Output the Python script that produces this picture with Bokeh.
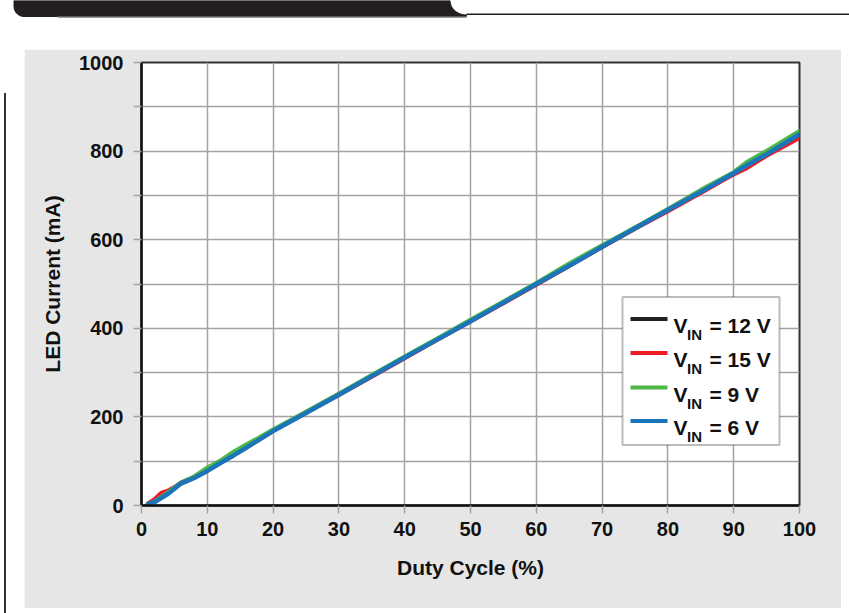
import numpy as np
from bokeh.plotting import figure
from bokeh.models import Range1d, FixedTicker, BoxAnnotation, Label, ColumnDataSource, Div
from bokeh.layouts import column, row
from bokeh.embed import file_html
from bokeh.resources import INLINE

# ---------------- data ----------------
duty = [1, 2, 3, 4, 5, 6, 8, 10, 12, 14, 16, 18, 20, 25, 30, 35, 40, 45, 50,
        55, 60, 65, 70, 75, 80, 85, 90, 92, 95, 100]
vin_12 = [3, 9, 19, 28, 39, 50, 63, 79, 97, 115, 133, 151, 169, 210, 251, 292, 334, 375, 417,
          458, 500, 542, 584, 626, 667, 709, 749, 767, 792, 835]
vin_15 = [4, 14, 28, 33, 41, 51, 63, 80, 97, 115, 132, 150, 169, 210, 250, 291, 333, 375, 416,
          457, 499, 541, 584, 625, 665, 706, 748, 762, 790, 830]
vin_9 = [3, 9, 19, 29, 40, 51, 65, 85, 101, 121, 138, 154, 171, 211, 252, 294, 336, 377, 419,
         460, 502, 546, 587, 627, 669, 712, 752, 775, 800, 845]
vin_6 = [3, 8, 17, 26, 38, 50, 62, 78, 96, 113, 131, 150, 168, 209, 250, 292, 334, 375, 416,
         458, 500, 541, 584, 626, 667, 708, 750, 768, 793, 838]

series_names = ["12", "15", "9", "6"]
series_values = [vin_12, vin_15, vin_9, vin_6]
series_colors = ["#231f20", "#ed1c24", "#4db848", "#1b75bb"]

x_ticks = list(range(0, 101, 10))
y_ticks = list(range(0, 1001, 200))
y_minor = list(range(100, 1000, 200))

FONT = "Liberation Sans"
PANEL = "#e6e6e6"
GRID = "#a3a3a3"

# ---------------- main figure ----------------
W, H = 817, 559
ML, MR, MT, MB = 117, 42, 13, 103
p = figure(width=W, height=H, output_backend="svg", toolbar_location=None,
           x_range=Range1d(0, 100), y_range=Range1d(0, 1000),
           min_border_left=ML, min_border_right=MR, min_border_top=MT, min_border_bottom=MB)
p.border_fill_color = PANEL
p.background_fill_color = "white"
p.outline_line_color = "#333333"
p.outline_line_width = 2

p.xaxis.ticker = FixedTicker(ticks=x_ticks, minor_ticks=[])
p.yaxis.ticker = FixedTicker(ticks=y_ticks, minor_ticks=y_minor)

for ax in (p.xaxis[0], p.yaxis[0]):
    ax.axis_line_color = "#111111"
    ax.axis_line_width = 2.5
    ax.major_tick_line_color = GRID
    ax.major_tick_line_width = 1.5
    ax.major_tick_in = 0
    ax.major_tick_out = 8
    ax.minor_tick_line_color = GRID
    ax.minor_tick_line_width = 1.5
    ax.minor_tick_in = 0
    ax.minor_tick_out = 8
    ax.major_label_text_font = FONT
    ax.major_label_text_font_style = "bold"
    ax.major_label_text_font_size = "20px"
    ax.major_label_text_color = "#111111"
    ax.axis_label_text_font = FONT
    ax.axis_label_text_font_style = "bold"
    ax.axis_label_text_font_size = "21px"
    ax.axis_label_text_color = "#111111"

p.xaxis.axis_label = "Duty Cycle (%)"
p.yaxis.axis_label = "LED Current (mA)"
p.xaxis.major_label_standoff = 8
p.yaxis.major_label_standoff = 10
p.xaxis.axis_label_standoff = 17
p.yaxis.axis_label_standoff = 12

p.xgrid.grid_line_color = GRID
p.xgrid.grid_line_width = 1.5
p.ygrid.grid_line_color = GRID
p.ygrid.grid_line_width = 1.5
p.ygrid.minor_grid_line_color = GRID
p.ygrid.minor_grid_line_width = 1.5

for vals, col in zip(series_values, series_colors):
    p.line(duty, vals, line_color=col, line_width=4.5, line_join="round", line_cap="round")

# ---------------- legend (manual, to allow subscripts) ----------------
FX0, FY0 = 141.0, 505.5          # frame pixel origin
SX = (W - ML - MR) / 100.0       # px per % duty
SY = (H - MT - MB) / 1000.0      # px per mA


def dx(px):
    return (px - FX0) / SX


def dy(py):
    return (FY0 - py) / SY


p.add_layout(BoxAnnotation(left=dx(622), right=dx(779), top=dy(297), bottom=dy(445),
                           fill_color="white", fill_alpha=1.0,
                           line_color="#222222", line_width=2, level="annotation"))
rows_px = [319, 353, 387.5, 421]
seg = ColumnDataSource(dict(
    x0=[dx(630)] * 4, x1=[dx(667)] * 4,
    y=[dy(r) for r in rows_px], c=series_colors))
p.segment(x0="x0", y0="y", x1="x1", y1="y", color="c", line_width=4, source=seg, level="overlay")
for name, r in zip(series_names, rows_px):
    p.add_layout(Label(x=dx(673), y=dy(r + 6.5), text="V", text_font=FONT,
                       text_font_style="bold", text_font_size="21px", text_color="#111111",
                       text_baseline="alphabetic", text_align="left", level="overlay"))
    p.add_layout(Label(x=dx(686.5), y=dy(r + 15.5), text="IN", text_font=FONT,
                       text_font_style="bold", text_font_size="15px", text_color="#111111",
                       text_baseline="alphabetic", text_align="left", level="overlay"))
    p.add_layout(Label(x=dx(709), y=dy(r + 6.5), text="= %s V" % name, text_font=FONT,
                       text_font_style="bold", text_font_size="21px", text_color="#111111",
                       text_baseline="alphabetic", text_align="left", level="overlay"))

# ---------------- page decorations ----------------
HH = 49
hdr = figure(width=849, height=HH, output_backend="svg", toolbar_location=None,
             x_range=Range1d(0, 849), y_range=Range1d(HH, 0),
             x_axis_location=None, y_axis_location=None, min_border=0)
hdr.outline_line_color = None
hdr.grid.visible = False
hdr.background_fill_color = "white"
hdr.border_fill_color = "white"
t = np.linspace(np.pi, np.pi / 2, 12)
r0 = 10.0
left_arc_x = list(13.5 + r0 + r0 * np.cos(t))
left_arc_y = list(16 - r0 + r0 * np.sin(t))
tt = np.linspace(0, np.pi / 2, 10)
right_arc_x = list(449.5 + 16.5 * (1 - np.cos(tt)))
right_arc_y = list(14.5 * np.sin(tt))
bx = [13.5, 449.5] + right_arc_x + [466, 466] + [23.5] + left_arc_x[::-1]
by = [0, 0] + right_arc_y + [14.5, 16] + [16] + left_arc_y[::-1]
hdr.patch(bx, by, fill_color="#231f20", line_color="#231f20", line_width=1)
hdr.segment(x0=[466], y0=[13.7], x1=[849], y1=[13.7], line_color="#231f20", line_width=1.5)
hdr.segment(x0=[57], y0=[16.8], x1=[466], y1=[16.8], line_color="#9a9a9a", line_width=1.5)

SH = 613 - HH
strip = Div(width=24, height=SH, margin=0,
            text='<div style="position:absolute;left:4px;top:%dpx;width:1.5px;height:%dpx;'
                 'background:#333333;"></div>' % (93 - HH, 613 - 93),
            styles={"position": "relative", "overflow": "hidden"})

layout = column(hdr, row(strip, p, spacing=0), spacing=0)

open("out.html", "w").write(file_html(layout, INLINE))
